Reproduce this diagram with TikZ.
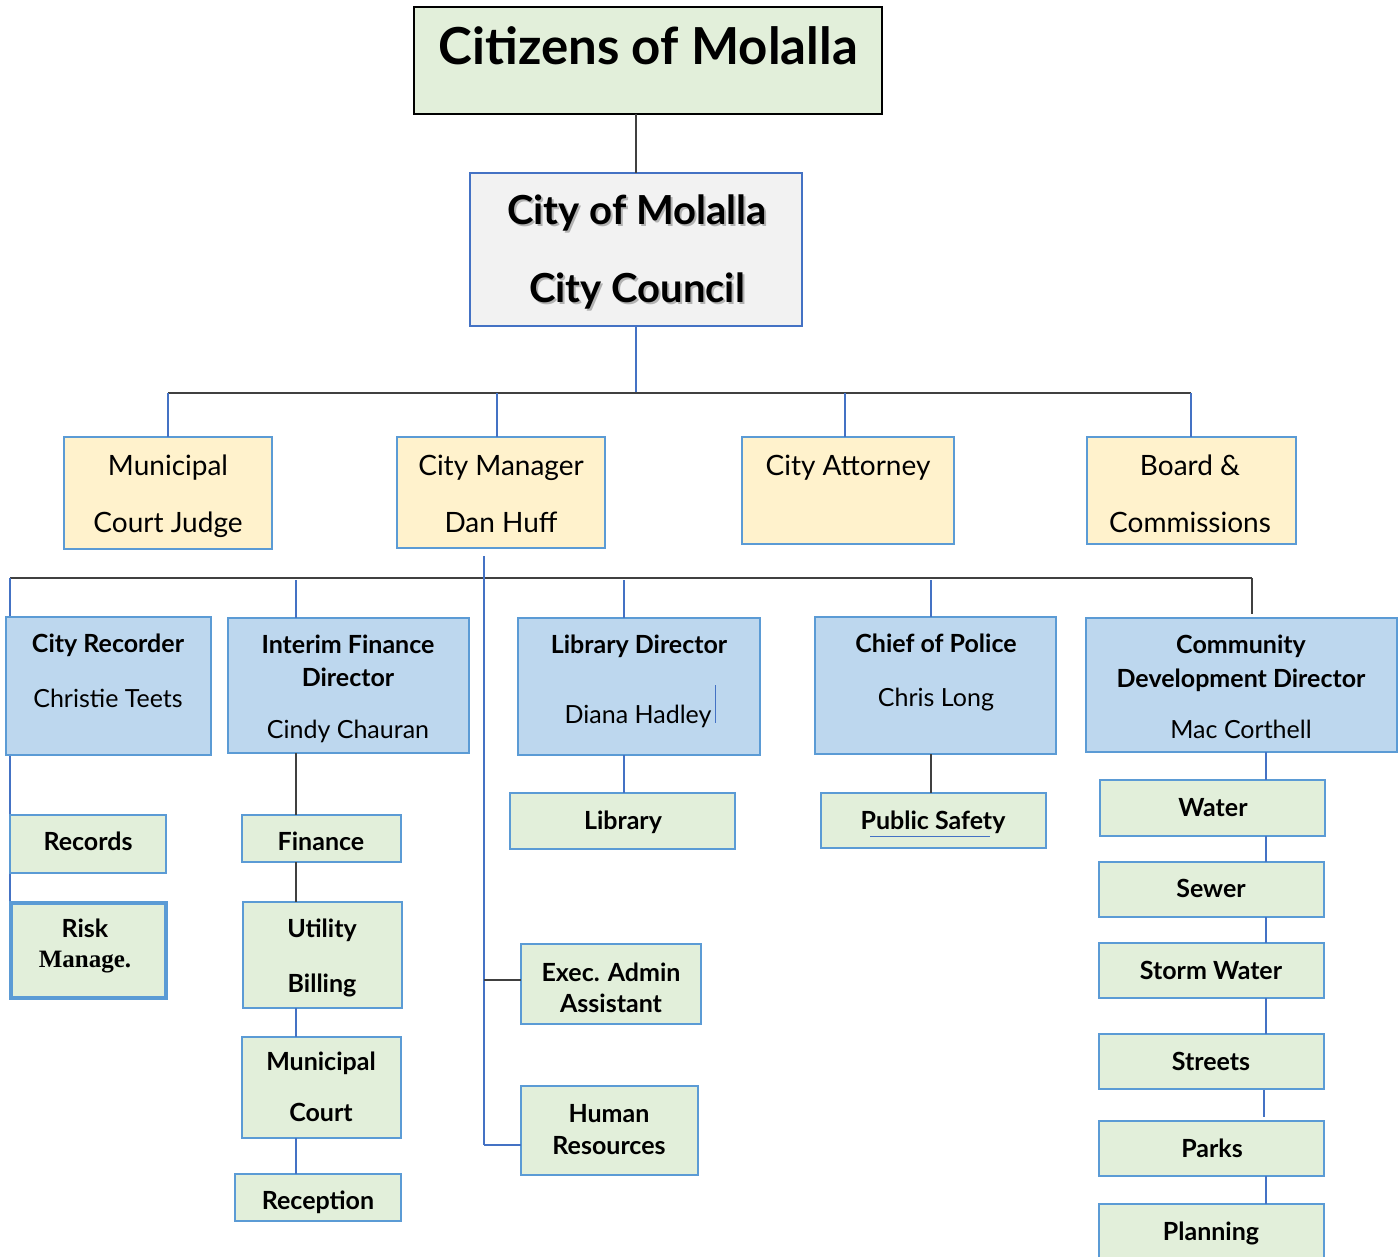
\documentclass[tikz,border=0pt]{standalone}
\usepackage{fontspec}
\setmainfont{Lato}
\newfontfamily\serifb{Liberation Serif}
\definecolor{grn}{HTML}{E2EFDA}
\definecolor{yel}{HTML}{FFF2CC}
\definecolor{lblue}{HTML}{BDD7EE}
\definecolor{lgray}{HTML}{F2F2F2}
\definecolor{bordblue}{HTML}{5B9BD5}
\definecolor{conblue}{HTML}{4472C4}
\definecolor{condark}{HTML}{404040}
\newcommand\fsz[1]{\fontsize{#1}{#1}\selectfont}
\newcommand\bx[6]{\node[#1, minimum width={#5pt-#3pt}, minimum height={#6pt-#4pt}] (#2) at ({(#3+#5)/2},{(#4+#6)/2}) {};}
\newcommand\tx[5]{\node[#1] (#2) at (#3,#4) {#5};}
\tikzset{
  box/.style={draw=bordblue, line width=2.8pt, inner sep=0pt, outer sep=0pt},
  gbox/.style={box, fill=grn},
  ybox/.style={box, fill=yel},
  bbox/.style={box, fill=lblue},
  txt/.style={anchor=base, inner sep=0pt, outer sep=0pt, text=black},
  tcit/.style={txt, font=\bfseries\fsz{51}},
  tcou/.style={txt, font=\bfseries\fsz{40}},
  tcous/.style={tcou, text=black!30},
  trow/.style={txt, font=\fsz{28}},
  thead/.style={txt, font=\bfseries\fsz{25}},
  tname/.style={txt, font=\fsz{25}},
  tgrn/.style={txt, font=\bfseries\fsz{25}},
  tser/.style={txt, font=\serifb\bfseries\fsz{25}},
  cb/.style={draw=conblue, line width=1.2pt},
  cd/.style={draw=condark, line width=1.4pt},
}
\begin{document}
\begin{tikzpicture}[x=1pt,y=-1pt]
\useasboundingbox (0,0) rectangle (1400,1257);
\clip (0,0) rectangle (1400,1257);
% ---------- coordinates
\coordinate (bus1L) at (168,393);
\coordinate (bus1R) at (1191,393);
\coordinate (b1m) at (497,393);
\coordinate (b1a) at (845,393);
\coordinate (bus2L) at (10,578);
\coordinate (bus2R) at (1252,578);
\coordinate (b2c) at (1252,614);
\coordinate (b2f) at (296,580);
\coordinate (b2l) at (624,580);
\coordinate (b2p) at (931,580);
\coordinate (m1) at (484,556);
\coordinate (m2) at (484,1145);
\coordinate (m3) at (484,980);
\coordinate (f1) at (296,753);
\coordinate (l1) at (624,755);
\coordinate (p1) at (931,754);
\coordinate (c1) at (1266,752);
\coordinate (c2) at (1264,1090);
\coordinate (c3) at (1264,1117);
\coordinate (r1) at (10,902);
\coordinate (uA) at (870,836);
\coordinate (uB) at (990,836);
\coordinate (sA) at (715,685);
\coordinate (sB) at (715,723);
% ---------- top boxes
\bx{draw=black, fill=grn, line width=2pt, inner sep=0pt, outer sep=0pt}{citizens}{414}{7}{882}{114}
\bx{draw=conblue, fill=lgray, line width=2.4pt, inner sep=0pt, outer sep=0pt}{council}{470}{173}{802}{326}
% ---------- connectors drawn before lower boxes
\draw[cd] (council.north) -- (council.north |- citizens.south);
\draw[cb] (council.south) -- (council.south |- bus1L);
\draw[cd] (bus1L) -- (bus1R);
\draw[cd] (bus2L) -- (bus2R);
\draw[cd] (bus2R) -- (b2c);
\draw[cb] (bus2L) -- (r1);
\draw[cb] (m1) -- (m2);
% row 2 boxes
\bx{ybox}{judge}{64}{437}{272}{549}
\bx{ybox}{mgr}{397}{437}{605}{548}
\bx{ybox}{atty}{742}{437}{954}{544}
\bx{ybox}{board}{1087}{437}{1296}{544}
\draw[cb] (bus1L) -- (bus1L |- judge.north);
\draw[cb] (b1m) -- (b1m |- mgr.north);
\draw[cb] (b1a) -- (b1a |- atty.north);
\draw[cb] (bus1R) -- (bus1R |- board.north);
% row 3 boxes
\bx{bbox}{rec}{6}{617}{211}{755}
\bx{bbox}{fin}{228}{618}{469}{753}
\bx{bbox}{lib}{518}{618}{760}{755}
\bx{bbox}{pol}{815}{617}{1056}{754}
\bx{bbox}{cdd}{1086}{618}{1397}{752}
\draw[cb] (b2f) -- (b2f |- fin.north);
\draw[cb] (b2l) -- (b2l |- lib.north);
\draw[cb] (b2p) -- (b2p |- pol.north);
% row 4 boxes
\bx{gbox}{records}{10}{815}{166}{873}
\bx{gbox, line width=3.8pt}{risk}{11}{903}{166}{998}
\bx{gbox}{finance}{242}{815}{401}{862}
\bx{gbox}{util}{243}{902}{402}{1008}
\bx{gbox}{mcourt}{242}{1037}{401}{1138}
\bx{gbox}{recep}{235}{1174}{401}{1221}
\bx{gbox}{library}{510}{793}{735}{849}
\bx{gbox}{psafe}{821}{793}{1046}{848}
\bx{gbox}{exec}{521}{944}{701}{1024}
\bx{gbox}{hr}{521}{1086}{698}{1175}
\bx{gbox}{water}{1100}{780}{1325}{836}
\bx{gbox}{sewer}{1099}{862}{1324}{917}
\bx{gbox}{storm}{1099}{943}{1324}{998}
\bx{gbox}{streets}{1099}{1034}{1324}{1089}
\bx{gbox}{parks}{1099}{1121}{1324}{1176}
\bx{gbox}{plan}{1099}{1204}{1324}{1290}
\draw[cd] (m3) -- (m3 -| exec.west);
\draw[cb] (m2) -- (m2 -| hr.west);
% vertical chains
\draw[cd] (f1) -- (f1 |- finance.north);
\draw[cd] (f1 |- finance.south) -- (f1 |- util.north);
\draw[cb] (f1 |- util.south) -- (f1 |- mcourt.north);
\draw[cb] (f1 |- mcourt.south) -- (f1 |- recep.north);
\draw[cb] (l1) -- (l1 |- library.north);
\draw[cd] (p1) -- (p1 |- psafe.north);
\draw[cb] (c1) -- (c1 |- water.north);
\draw[cb] (c1 |- water.south) -- (c1 |- sewer.north);
\draw[cb] (c1 |- sewer.south) -- (c1 |- storm.north);
\draw[cb] (c1 |- storm.south) -- (c1 |- streets.north);
\draw[cb] (c2) -- (c3);
\draw[cb] (c1 |- parks.south) -- (c1 |- plan.north);
% small marks
\draw[cb, line width=1pt] (uA) -- (uB);
\draw[cb, line width=1pt] (sA) -- (sB);
% ---------- texts
\tx{tcit}{tCit}{648}{65}{Citizens of Molalla}
\tx{tcous}{tCou1s}{639}{227}{City of Molalla}
\tx{tcous}{tCou2s}{639}{305}{City Council}
\tx{tcou}{tCou1}{637}{225}{City of Molalla}
\tx{tcou}{tCou2}{637}{303}{City Council}
\tx{trow}{tJud1}{168}{475}{Municipal}
\tx{trow}{tJud2}{168}{532}{Court Judge}
\tx{trow}{tMgr1}{501}{475}{City Manager}
\tx{trow}{tMgr2}{501}{532}{Dan Huff}
\tx{trow}{tAtt1}{848}{475}{City Attorney}
\tx{trow}{tBrd1}{1190}{475}{Board \&}
\tx{trow}{tBrd2}{1190}{532}{Commissions}
\tx{thead}{tRec1}{108}{652}{City Recorder}
\tx{tname}{tRec2}{108}{707}{Christie Teets}
\tx{thead}{tFin1}{348}{653}{Interim Finance}
\tx{thead}{tFin2}{348}{686}{Director}
\tx{tname}{tFin3}{348}{738}{Cindy Chauran}
\tx{thead}{tLib1}{639}{653}{Library Director}
\tx{tname}{tLib2}{638}{723}{Diana Hadley}
\tx{thead}{tPol1}{936}{652}{Chief of Police}
\tx{tname}{tPol2}{936}{706}{Chris Long}
\tx{thead}{tCdd1}{1241}{653}{Community}
\tx{thead}{tCdd2}{1241}{687}{Development Director}
\tx{tname}{tCdd3}{1241}{738}{Mac Corthell}
\tx{tgrn}{tRecords}{88}{850}{Records}
\tx{tgrn}{tRisk1}{85}{937}{Risk}
\tx{tser}{tRisk2}{85}{967}{Manage.}
\tx{tgrn}{tFinance}{321}{850}{Finance}
\tx{tgrn}{tUtil1}{322}{937}{Utility}
\tx{tgrn}{tUtil2}{322}{992}{Billing}
\tx{tgrn}{tMc1}{321}{1070}{Municipal}
\tx{tgrn}{tMc2}{321}{1121}{Court}
\tx{tgrn}{tRecep}{318}{1209}{Reception}
\tx{tgrn}{tLibrary}{623}{829}{Library}
\tx{tgrn}{tPsafe}{933}{829}{Public Safety}
\tx{tgrn}{tExec1}{611}{981}{Exec. Admin}
\tx{tgrn}{tExec2}{611}{1012}{Assistant}
\tx{tgrn}{tHr1}{609}{1122}{Human}
\tx{tgrn}{tHr2}{609}{1154}{Resources}
\tx{tgrn}{tWater}{1213}{816}{Water}
\tx{tgrn}{tSewer}{1211}{897}{Sewer}
\tx{tgrn}{tStorm}{1211}{979}{Storm Water}
\tx{tgrn}{tStreets}{1211}{1070}{Streets}
\tx{tgrn}{tParks}{1212}{1157}{Parks}
\tx{tgrn}{tPlan}{1211}{1240}{Planning}
\end{tikzpicture}
\end{document}
